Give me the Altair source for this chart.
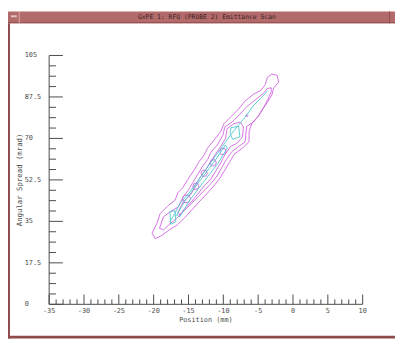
import altair as alt
import pandas as pd

# ---------------- text ----------------
WINDOW_TITLE = "GxPE 1: RFQ (PROBE 2) Emittance Scan"
X_TITLE = "Position (mm)"
Y_TITLE = "Angular Spread (mrad)"

# ---------------- axes ----------------
X_DOMAIN = [-35, 10]
Y_DOMAIN = [0, 105]
X_MAJOR = [-35, -30, -25, -20, -15, -10, -5, 0, 5, 10]
X_LABELS = ["-35", "-30", "-25", "-20", "-15", "-10", "-5", "0", "5", "10"]
X_MINOR = [-34, -33, -32, -31, -29, -28, -27, -26, -24, -23, -22, -21,
           -19, -18, -17, -16, -14, -13, -12, -11, -9, -8, -7, -6,
           -4, -3, -2, -1, 1, 2, 3, 4, 6, 7, 8, 9]
Y_MAJOR = [0, 17.5, 35, 52.5, 70, 87.5, 105]
Y_LABELS = ["0", "17.5", "35", "52.5", "70", "87.5", "105"]
Y_MINOR = [4.375, 8.75, 13.125, 21.875, 26.25, 30.625, 39.375, 43.75, 48.125,
           56.875, 61.25, 65.625, 74.375, 78.75, 83.125, 91.875, 96.25, 100.625]

# ---------------- contours ----------------
# outer magenta contour
A_X = [-20.23, -19.53, -19.06, -17.89, -16.95, -16.48, -15.78, -15.08, -14.14, -13.44,
       -12.73, -12.27, -11.33, -10.39, -9.92, -8.98, -7.81, -6.87, -5.70, -4.62,
       -3.97, -3.69, -3.03, -2.28, -2.05, -2.75, -3.03, -3.69, -4.44, -5.09,
       -5.94, -6.31, -6.31, -7.25, -8.37, -9.12, -9.78, -10.53, -11.28, -12.26,
       -13.16, -14.28, -15.55, -16.62, -17.75, -18.83, -19.77]
A_Y = [30.04, 34.17, 38.31, 41.75, 43.82, 47.27, 49.33, 52.78, 56.91, 60.36,
       63.11, 65.87, 69.31, 72.76, 76.20, 78.96, 82.40, 85.85, 88.61, 90.26,
       92.74, 95.77, 97.15, 96.60, 93.84, 91.36, 88.33, 85.16, 81.99, 78.96,
       76.20, 72.76, 68.62, 65.87, 63.53, 59.94, 56.64, 53.05, 50.30, 46.99,
       44.23, 40.65, 36.52, 33.49, 31.42, 29.08, 27.70]
# second magenta contour
B_X = [-19.16, -18.59, -17.66, -16.48, -15.78, -15.08, -14.37, -13.67, -12.97, -12.26,
       -11.80, -10.86, -10.06, -9.78, -8.75, -7.58, -6.64, -5.47, -4.29, -3.69,
       -3.12, -3.12, -3.59, -4.15, -4.90, -5.70, -6.64, -6.78, -6.87, -7.81,
       -8.75, -9.59, -10.25, -10.90, -11.65, -12.59, -13.53, -14.61, -15.78, -16.81,
       -17.75, -18.59]
B_Y = [32.11, 36.93, 38.99, 41.06, 45.20, 47.95, 51.40, 54.85, 58.29, 61.05,
       64.08, 67.25, 71.38, 74.83, 76.89, 80.34, 83.37, 86.13, 88.88, 91.09,
       91.36, 89.71, 86.54, 83.37, 79.65, 76.89, 75.10, 71.38, 68.62, 66.56,
       64.49, 61.05, 57.60, 54.16, 51.40, 48.37, 45.61, 42.44, 38.99, 35.97,
       33.76, 31.42]
# third magenta contour
D_X = [-16.48, -15.78, -14.61, -13.91, -13.20, -12.50, -11.80, -11.09, -10.39, -9.69,
       -9.45, -8.51, -7.58, -7.11, -7.25, -8.05, -8.98, -9.78, -10.39, -11.09,
       -11.80, -12.73, -13.67, -14.61, -15.55, -16.25]
D_Y = [39.00, 43.13, 46.58, 50.71, 54.16, 56.91, 60.36, 63.53, 66.56, 70.00,
       74.14, 76.20, 76.89, 74.83, 70.69, 67.94, 66.56, 63.11, 59.67, 56.22,
       52.78, 50.02, 46.58, 43.13, 40.38, 37.62]
# small magenta islands
I1_X = [-10.5, -10.3, -9.8, -9.6, -9.8, -10.3]
I1_Y = [64.5, 65.7, 65.8, 64.5, 63.3, 63.2]
I2_X = [-11.9, -11.7, -11.2, -11.0, -11.2, -11.7]
I2_Y = [59.7, 60.9, 61.0, 59.7, 58.5, 58.4]
I3_X = [-13.2, -13.0, -12.5, -12.3, -12.5, -13.0]
I3_Y = [55.3, 56.5, 56.6, 55.3, 54.1, 54.0]
I4_X = [-14.4, -14.2, -13.7, -13.5, -13.7, -14.2]
I4_Y = [49.8, 51.0, 51.1, 49.8, 48.6, 48.5]
I5_X = [-15.9, -15.6, -15.0, -14.7, -15.0, -15.6]
I5_Y = [44.5, 46.0, 46.1, 44.5, 43.0, 42.9]
I6_X = [-6.8, -6.6, -6.45, -6.6]
I6_Y = [79.6, 80.1, 79.6, 79.2]
# cyan ridge line (open)
CL_X = [-17.66, -16.95, -16.25, -14.84, -13.67, -12.50, -11.33, -10.16, -8.98, -8.05,
        -6.87, -5.70, -4.53, -3.59]
CL_Y = [34.86, 38.31, 42.44, 47.27, 52.09, 56.91, 61.73, 66.56, 71.38, 74.83,
        78.96, 83.78, 87.23, 90.26]
# cyan loop
E_X = [-16.72, -15.31, -13.20, -11.09, -9.69, -9.45, -10.72, -12.73, -14.84, -16.25]
E_Y = [37.62, 44.51, 52.78, 61.05, 67.25, 65.87, 59.67, 52.09, 43.82, 36.93]
# cyan boxes
F_X = [-8.89, -7.81, -7.62, -8.65, -9.03]
F_Y = [74.55, 75.10, 70.69, 69.59, 72.07]
G_X = [-17.66, -16.95, -16.81, -17.56]
G_Y = [39.00, 39.55, 34.86, 33.76]

MAGENTA = "#cf62e0"
CYAN = "#4ec6cc"
AXIS_COL = "#4a4a4a"
TEXT_COL = "#4d4d4d"
FONT = "DejaVu Sans Mono"

contours = [
    ("A", "m", A_X, A_Y, True), ("B", "m", B_X, B_Y, True), ("D", "m", D_X, D_Y, True),
    ("I1", "m", I1_X, I1_Y, True), ("I2", "m", I2_X, I2_Y, True), ("I3", "m", I3_X, I3_Y, True),
    ("I4", "m", I4_X, I4_Y, True), ("I5", "m", I5_X, I5_Y, True), ("I6", "m", I6_X, I6_Y, True),
    ("CL", "c", CL_X, CL_Y, False), ("E", "c", E_X, E_Y, True),
    ("F", "c", F_X, F_Y, True), ("G", "c", G_X, G_Y, True),
]
rows = []
for name, col, xs_, ys_, closed in contours:
    pts = list(zip(xs_, ys_))
    if closed:
        pts.append(pts[0])
    for i, (x, y) in enumerate(pts):
        rows.append({"id": name, "level": col, "x": x, "y": y, "o": i})
cdf = pd.DataFrame(rows)

W, H = 320, 254
xs = alt.Scale(domain=X_DOMAIN, nice=False, zero=False)
ys = alt.Scale(domain=Y_DOMAIN, nice=False, zero=False)

one = pd.DataFrame({"k": [0]})

lines = alt.Chart(cdf).mark_line(strokeWidth=0.9, clip=False).encode(
    x=alt.X("x:Q", scale=xs, axis=None),
    y=alt.Y("y:Q", scale=ys, axis=None),
    detail="id:N",
    order="o:Q",
    color=alt.Color("level:N", scale=alt.Scale(domain=["m", "c"], range=[MAGENTA, CYAN]), legend=None),
)

xmaj = pd.DataFrame({"v": X_MAJOR, "t": X_LABELS})
xmin = pd.DataFrame({"v": X_MINOR})
ymaj = pd.DataFrame({"v": Y_MAJOR, "t": Y_LABELS})
ymin = pd.DataFrame({"v": Y_MINOR})

xmaj_ticks = alt.Chart(xmaj).mark_rule(color=AXIS_COL, strokeWidth=1).encode(
    x=alt.X("v:Q", scale=xs, axis=None), y=alt.value(H), y2=alt.value(H - 10))
xmin_ticks = alt.Chart(xmin).mark_rule(color=AXIS_COL, strokeWidth=1).encode(
    x=alt.X("v:Q", scale=xs, axis=None), y=alt.value(H), y2=alt.value(H - 5))
ymaj_ticks = alt.Chart(ymaj).mark_rule(color=AXIS_COL, strokeWidth=1).encode(
    y=alt.Y("v:Q", scale=ys, axis=None), x=alt.value(0), x2=alt.value(14))
ymin_ticks = alt.Chart(ymin).mark_rule(color=AXIS_COL, strokeWidth=1).encode(
    y=alt.Y("v:Q", scale=ys, axis=None), x=alt.value(0), x2=alt.value(7))

xlab = alt.Chart(xmaj).mark_text(font=FONT, fontSize=7, color=TEXT_COL, align="center", baseline="middle").encode(
    x=alt.X("v:Q", scale=xs, axis=None), y=alt.value(H + 7), text="t:N")
ylab = alt.Chart(ymaj).mark_text(font=FONT, fontSize=7, color=TEXT_COL, align="left", baseline="middle").encode(
    y=alt.Y("v:Q", scale=ys, axis=None), x=alt.value(-25), text="t:N")

ydomain = alt.Chart(one).mark_rule(color=AXIS_COL, strokeWidth=1).encode(
    x=alt.value(0), y=alt.value(0), y2=alt.value(H))
xdomain = alt.Chart(one).mark_rule(color=AXIS_COL, strokeWidth=1).encode(
    x=alt.value(0), x2=alt.value(W), y=alt.value(H))

xtitle = alt.Chart(one).mark_text(font=FONT, fontSize=7, color=TEXT_COL, align="center", baseline="middle",
                                  text=X_TITLE).encode(x=alt.value(W / 2), y=alt.value(H + 16))
ytitle = alt.Chart(one).mark_text(font=FONT, fontSize=7.5, color=TEXT_COL, align="center", baseline="middle",
                                  angle=270, text=Y_TITLE).encode(x=alt.value(-29.5), y=alt.value(H / 2))

# window frame decoration
FRAME = "#b36a6a"
FRAME_DARK = "#8f4b4b"
titlebar = alt.Chart(one).mark_rect(color=FRAME).encode(
    x=alt.value(-42), x2=alt.value(353), y=alt.value(-45), y2=alt.value(-33))
titlebar_edge = alt.Chart(one).mark_rect(color=FRAME_DARK).encode(
    x=alt.value(-42), x2=alt.value(353), y=alt.value(-34), y2=alt.value(-33))
div_left = alt.Chart(one).mark_rect(color="#d9a8a8").encode(
    x=alt.value(-31), x2=alt.value(-30), y=alt.value(-45), y2=alt.value(-33))
div_right = alt.Chart(one).mark_rect(color=FRAME_DARK).encode(
    x=alt.value(347), x2=alt.value(348), y=alt.value(-45), y2=alt.value(-33))
minus_btn = alt.Chart(one).mark_rect(color="#e6c4c4").encode(
    x=alt.value(-39), x2=alt.value(-33), y=alt.value(-41), y2=alt.value(-39))
left_border = alt.Chart(one).mark_rect(color=FRAME_DARK).encode(
    x=alt.value(-42), x2=alt.value(-40), y=alt.value(-33), y2=alt.value(289))
bottom_border = alt.Chart(one).mark_rect(color=FRAME_DARK).encode(
    x=alt.value(-42), x2=alt.value(353), y=alt.value(286), y2=alt.value(289))
wtitle = alt.Chart(one).mark_text(font=FONT, fontSize=6.5, color="#3a2222", align="center", baseline="middle",
                                  text=WINDOW_TITLE).encode(x=alt.value(161), y=alt.value(-39.5))

chart = alt.layer(
    titlebar, titlebar_edge, div_left, div_right, minus_btn, left_border, bottom_border, wtitle,
    xdomain, ydomain, xmaj_ticks, xmin_ticks, ymaj_ticks, ymin_ticks, xlab, ylab, xtitle, ytitle,
    lines,
).properties(
    width=W, height=H,
    autosize=alt.AutoSizeParams(type="none"),
    padding={"left": 42, "top": 45, "right": 33, "bottom": 35},
    background="white",
).configure_view(stroke=None)

chart.save("out.html", embed_options={"renderer": "svg", "actions": False})
